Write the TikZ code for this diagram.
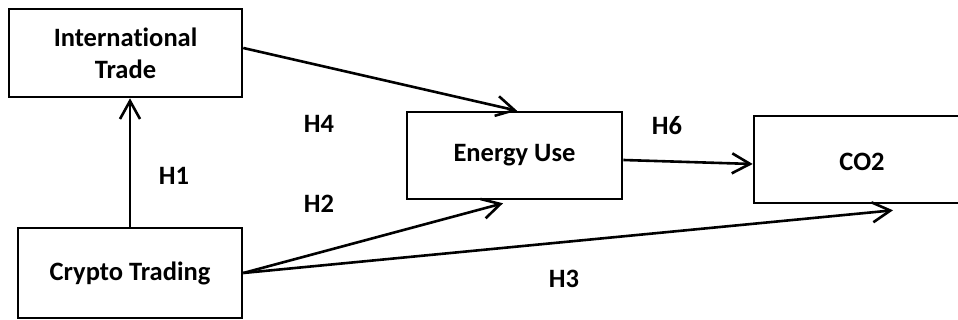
\documentclass[tikz,border=0pt]{standalone}
\usepackage{fontspec}
\setmainfont[Ligatures=NoCommon]{Carlito}
\usetikzlibrary{arrows.meta}
\begin{document}
\begin{tikzpicture}[x=1pt,y=-1pt,
  box/.style={draw, line width=2.6pt, inner sep=0pt, font=\bfseries\fontsize{26.5}{32}\selectfont, align=center},
  hyp/.style={font=\bfseries\fontsize{26.5}{32}\selectfont, inner sep=0pt},
  link/.style={line width=2.6pt, -{Straight Barb[length=18pt,width=20pt,line width=2.6pt]}}]
\useasboundingbox (0,0) rectangle (958,320);
% variable boxes
\node[box, minimum width=233pt, minimum height=88pt] (IT) at (125.5,53) {International\\Trade};
\node[box, minimum width=224pt, minimum height=90pt] (CT) at (130,273) {Crypto Trading};
\node[box, minimum width=215pt, minimum height=87pt] (EU) at (514.5,155.5) {Energy Use};
\node[box, minimum width=218pt, minimum height=87pt] (CO) at (863,159.5) {};
\node[hyp] (COt) at (862,162) {CO2};
% hypothesis labels
\node[hyp] (H1) at (174,176) {H1};
\node[hyp] (H2) at (319,204) {H2};
\node[hyp] (H3) at (564,279) {H3};
\node[hyp] (H4) at (319,124) {H4};
\node[hyp] (H6) at (667,126) {H6};
% paths
\draw[link] (CT.north) -- (CT.north |- IT.south);
\draw[link] ([yshift=5pt]IT.east) -- ([xshift=2.5pt]EU.north);
\draw[link] (CT.east) -- ([xshift=-11.5pt,yshift=-3pt]EU.south);
\draw[link] (CT.east) -- ([xshift=30pt,yshift=-6pt]CO.south);
\draw[link] ([yshift=-4.5pt]EU.east) -- ([yshift=-4.5pt]CO.west);
\end{tikzpicture}
\end{document}
